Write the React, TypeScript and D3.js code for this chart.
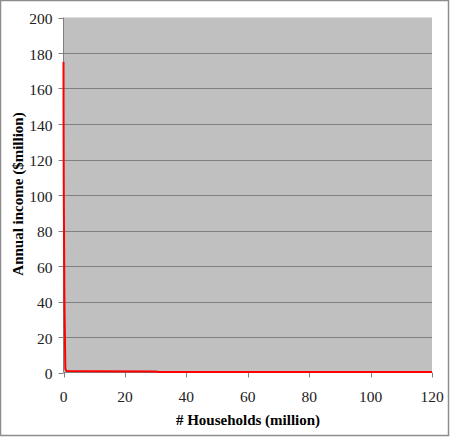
import React from 'react';
import * as d3 from 'd3';

// households (million), cumulative, vs annual income ($million)
const households = [0, 0.02, 0.05, 0.1, 0.2, 0.3, 0.45, 0.6, 1, 10, 30, 31, 60, 120];
const income = [175, 148, 125, 100, 73, 40, 22, 2, 0.8, 0.7, 0.6, 0.3, 0.3, 0.3];
const xTicks = [0, 20, 40, 60, 80, 100, 120];
const yTicks = [0, 20, 40, 60, 80, 100, 120, 140, 160, 180, 200];

const W = 450;
const H = 437;
const margin = { left: 63.5, right: 18, top: 17.5, bottom: 64.5 };
const font = '"Liberation Serif", "Times New Roman", serif';

const App: React.FC = () => {
  const x = d3.scaleLinear().domain([0, 120]).range([margin.left, W - margin.right]);
  const y = d3.scaleLinear().domain([0, 200]).range([H - margin.bottom, margin.top]);

  const pts: [number, number][] = households.map((h, i) => [h, income[i]]);
  const line = d3.line<[number, number]>()
    .x(d => x(d[0]))
    .y(d => y(d[1]));

  return (
    <svg width={W} height={H} style={{ position: 'absolute', left: 0, top: 0 }}>
      <rect x={0.5} y={0.5} width={W - 2} height={H - 2} fill="#fff" stroke="#8c8c8c" strokeWidth={1.5} />
      <rect x={x(0)} y={y(200)} width={x(120) - x(0)} height={y(0) - y(200)} fill="#c0c0c0" />
      {yTicks.filter(t => t > 0 && t < 200).map(t => (
        <line key={t} x1={x(0)} x2={x(120)} y1={Math.round(y(t)) + 0.5} y2={Math.round(y(t)) + 0.5} stroke="#808080" strokeWidth={1} />
      ))}
      {/* axes */}
      <line x1={x(0)} x2={x(0)} y1={y(200)} y2={y(0)} stroke="#808080" />
      <line x1={x(0)} x2={x(120)} y1={y(0)} y2={y(0)} stroke="#808080" />
      {yTicks.map(t => (
        <g key={t}>
          <line x1={x(0) - 5} x2={x(0)} y1={Math.round(y(t)) + 0.5} y2={Math.round(y(t)) + 0.5} stroke="#808080" />
          <text x={x(0) - 11} y={y(t)} dy="0.42em" textAnchor="end" fontFamily={font} fontSize={15.5} fill="#222">{t}</text>
        </g>
      ))}
      {xTicks.map(t => (
        <g key={t}>
          <line x1={Math.round(x(t)) + 0.5} x2={Math.round(x(t)) + 0.5} y1={y(0)} y2={y(0) + 5} stroke="#808080" />
          <text x={x(t)} y={401.5} textAnchor="middle" fontFamily={font} fontSize={15.5} fill="#222">{t}</text>
        </g>
      ))}
      <path d={line(pts) ?? ''} fill="none" stroke="#ff0000" strokeWidth={2} strokeLinejoin="round" />
      <text x={248} y={425} textAnchor="middle" fontFamily={font} fontSize={15} fontWeight="bold" fill="#000">
        # Households (million)
      </text>
      <text transform="translate(22.5,194) rotate(-90)" textAnchor="middle" fontFamily={font} fontSize={15} fontWeight="bold" fill="#000">
        Annual income ($million)
      </text>
    </svg>
  );
};

export default App;
